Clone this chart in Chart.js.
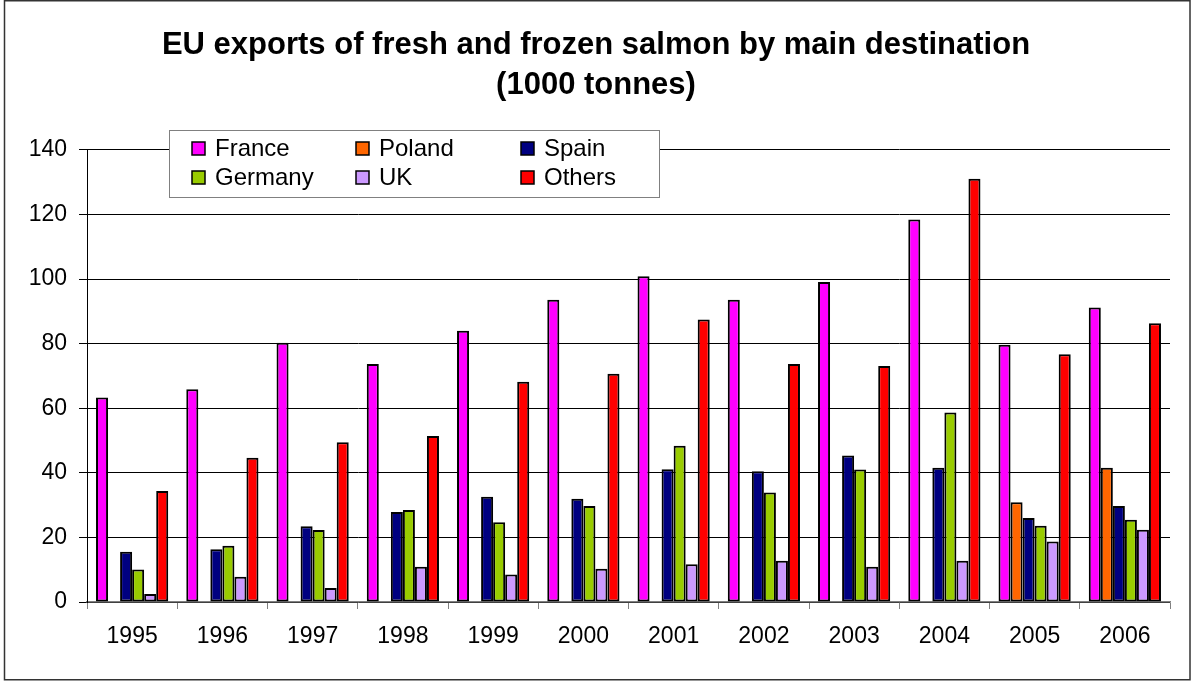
<!DOCTYPE html>
<html>
<head>
<meta charset="utf-8">
<script src="https://cdn.jsdelivr.net/npm/chart.js@4/dist/chart.umd.min.js"></script>
<style>
  html, body { margin: 0; padding: 0; background: #fff; }
  #wrap { width: 1192px; height: 682px; position: relative; }
</style>
</head>
<body>
<div id="wrap"><canvas id="salmon"></canvas></div>
<script>
const years = ['1995', '1996', '1997', '1998', '1999', '2000', '2001', '2002', '2003', '2004', '2005', '2006'];
const france  = [63.3, 65.9, 80.3, 73.7, 84.0, 93.6, 100.9, 93.6, 99.1, 118.5, 79.7, 91.2];
const poland  = [null, null, null, null, null, null, null, null, null, null, 30.9, 41.6];
const spain   = [15.6, 16.3, 23.5, 27.9, 32.6, 32.0, 41.1, 40.5, 45.4, 41.6, 26.0, 29.7];
const germany = [10.1, 17.4, 22.3, 28.5, 24.7, 29.7, 48.4, 33.9, 41.0, 58.7, 23.6, 25.5];
const uk      = [2.5, 7.8, 4.3, 10.9, 8.5, 10.3, 11.7, 12.8, 10.9, 12.8, 18.7, 22.4];
const others  = [34.4, 44.7, 49.5, 51.4, 68.2, 70.7, 87.5, 73.7, 73.1, 131.1, 76.7, 86.3];
const yTicks  = [0, 20, 40, 60, 80, 100, 120, 140];

const FONT = "'Liberation Sans', Arial, sans-serif";

const series = [
    { label: 'France',  data: france,  color: '#FF00FF' },
    { label: 'Poland',  data: poland,  color: '#FF6600' },
    { label: 'Spain',   data: spain,   color: '#000080' },
    { label: 'Germany', data: germany, color: '#99CC00' },
    { label: 'UK',      data: uk,      color: '#CC99FF' },
    { label: 'Others',  data: others,  color: '#FF0000' }
];

// white page + thin frame round the whole chart
const framePlugin = {
    id: 'frame',
    beforeDraw(chart) {
        const ctx = chart.ctx;
        ctx.save();
        ctx.fillStyle = '#fff';
        ctx.fillRect(0, 0, chart.width, chart.height);
        ctx.restore();
    },
    afterDraw(chart) {
        const ctx = chart.ctx;
        ctx.save();
        ctx.strokeStyle = '#333';
        ctx.lineWidth = 1.5;
        ctx.strokeRect(4.5, 0.75, 1185.5, 679);
        ctx.restore();
    }
};

// Excel-like legend: 3 columns x 2 rows in a box over the plot
const boxLegend = {
    id: 'boxLegend',
    afterDraw(chart) {
        const ctx = chart.ctx;
        const box = { x: 169.5, y: 130.5, w: 490, h: 67 };
        const colX = [192, 356, 521];
        const rowY = [148, 177];
        ctx.save();
        ctx.fillStyle = '#fff';
        ctx.fillRect(box.x, box.y, box.w, box.h);
        ctx.strokeStyle = '#808080';
        ctx.lineWidth = 1;
        ctx.strokeRect(box.x, box.y, box.w, box.h);
        ctx.font = '24px ' + FONT;
        ctx.textBaseline = 'middle';
        ctx.textAlign = 'left';
        chart.data.datasets.forEach((ds, i) => {
            const cx = colX[i % 3];
            const cy = rowY[Math.floor(i / 3)];
            ctx.fillStyle = ds.backgroundColor;
            ctx.fillRect(cx, cy - 6, 13, 13);
            ctx.strokeStyle = '#000';
            ctx.lineWidth = 1.5;
            ctx.strokeRect(cx, cy - 6, 13, 13);
            ctx.fillStyle = '#000';
            ctx.fillText(ds.label, cx + 23, cy + 1);
        });
        ctx.restore();
    }
};

new Chart(document.getElementById('salmon').getContext('2d'), {
    type: 'bar',
    data: {
        labels: years,
        datasets: series.map(s => ({
            label: s.label,
            data: s.data,
            backgroundColor: s.color,
            borderColor: '#000',
            borderWidth: 2,
            borderSkipped: false,
            categoryPercentage: 0.8,
            barPercentage: 1.0
        }))
    },
    options: {
        responsive: true,
        maintainAspectRatio: false,
        animation: false,
        layout: { padding: { left: 22, right: 22, top: 0, bottom: 0 } },
        plugins: {
            legend: { display: false },
            tooltip: { enabled: false },
            title: {
                display: true,
                text: ['EU exports of fresh and frozen salmon by main destination', '(1000 tonnes)'],
                color: '#000',
                font: { family: FONT, size: 31, weight: 'bold', lineHeight: 1.29 },
                padding: { top: 25, bottom: 45 }
            }
        },
        scales: {
            x: {
                grid: {
                    offset: true,
                    drawOnChartArea: false,
                    drawTicks: true,
                    tickLength: 7,
                    color: '#808080'
                },
                border: { color: '#808080', width: 1.5 },
                ticks: { color: '#000', padding: 14, font: { family: FONT, size: 23 }, maxRotation: 0 },
                afterFit: (scale) => { scale.height = 80; }
            },
            y: {
                min: 0,
                max: 140,
                afterBuildTicks: (scale) => { scale.ticks = yTicks.map(v => ({ value: v })); },
                grid: { color: '#000', lineWidth: 1, tickLength: 8 },
                border: { color: '#000', width: 1 },
                ticks: { color: '#000', padding: 12, font: { family: FONT, size: 23 } },
                afterFit: (scale) => { scale.width = 65; }
            }
        }
    },
    plugins: [framePlugin, boxLegend]
});
</script>
</body>
</html>
